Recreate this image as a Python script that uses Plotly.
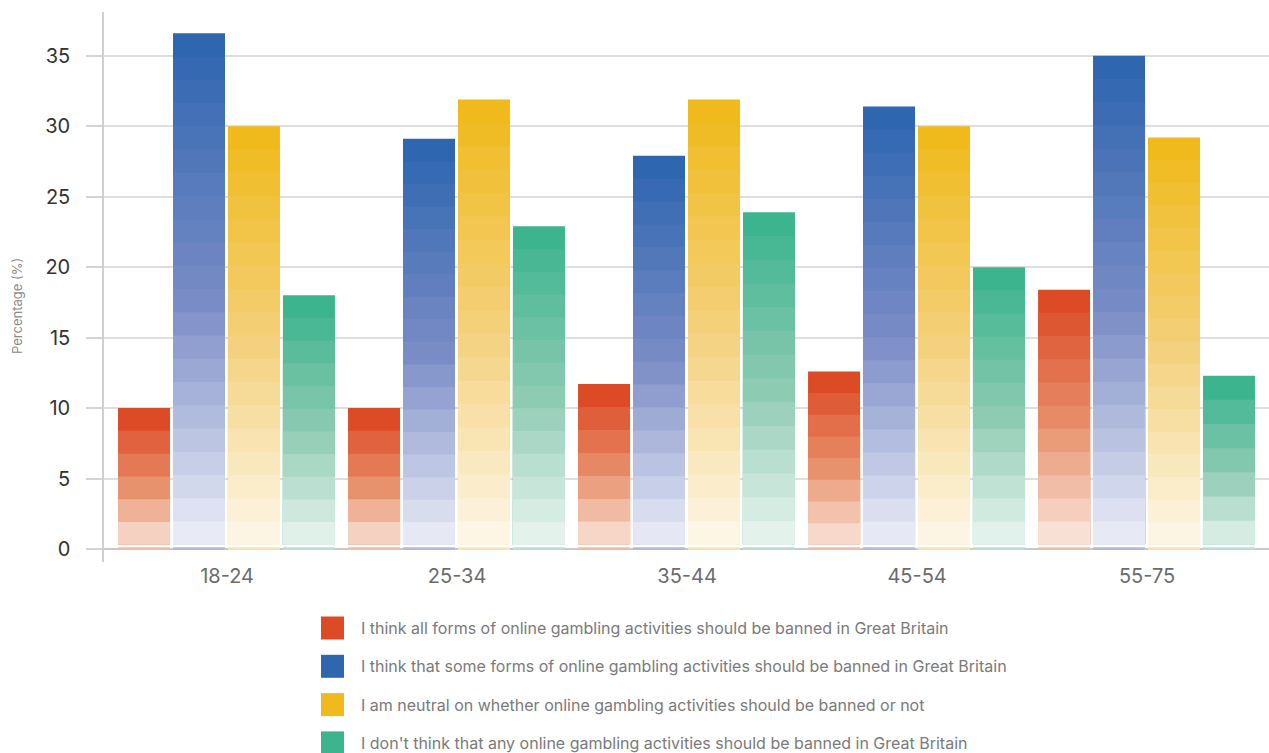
import plotly.graph_objects as go

# ---- data -------------------------------------------------------------
age_groups = ["18-24", "25-34", "35-44", "45-54", "55-75"]

series_names = [
    "I think all forms of online gambling activities should be banned in Great Britain",
    "I think that some forms of online gambling activities should be banned in Great Britain",
    "I am neutral on whether online gambling activities should be banned or not",
    "I don't think that any online gambling activities should be banned in Great Britain",
]

ban_all = [10.0, 10.0, 11.7, 12.6, 18.4]
ban_some = [36.6, 29.1, 27.9, 31.4, 35.0]
neutral = [30.0, 31.9, 31.9, 30.0, 29.2]
ban_none = [18.0, 22.9, 23.9, 20.0, 12.3]

series_values = [ban_all, ban_some, neutral, ban_none]

# gradient stops per series: (top, middle, pale end)
series_colors = ["#DC4A26", "#2E66B0", "#F0BA1C", "#3CB48E"]
series_mid = ["#E8926D", "#7A8CC6", "#F4D17E", "#8ECBB3"]
series_pale = ["#FCF1EB", "#F3F4FA", "#FEFAF0", "#F2F9F6"]

y_ticks = [0, 5, 10, 15, 20, 25, 30, 35]


# ---- colour helpers -----------------------------------------------------
def hex_to_rgb(h):
    h = h.lstrip("#")
    return [int(h[i:i + 2], 16) for i in (0, 2, 4)]


def mix(a, b, t):
    return [a[i] + (b[i] - a[i]) * t for i in range(3)]


def band_color(top, mid, pale, t):
    """Three-stop gradient: t=0 top colour, t=0.5 middle, t=1 pale end."""
    a, m, p = hex_to_rgb(top), hex_to_rgb(mid), hex_to_rgb(pale)
    c = mix(a, m, t / 0.5) if t <= 0.5 else mix(m, p, (t - 0.5) / 0.5)
    return "rgb(%d,%d,%d)" % tuple(round(v) for v in c)


# ---- geometry of the grouped bars ---------------------------------------
STEP = 1.65        # approximate height of one colour band
STRIP = 0.12       # thin base strip under each bar
GAP_TOP = 0.30     # where the banded part of the bar starts
BAR_W = 0.226
OFFSETS = [-0.474, -0.235, 0.004, 0.243]

fig = go.Figure()

for s, vals in enumerate(series_values):
    top, mid, pale = series_colors[s], series_mid[s], series_pale[s]
    xs, heights, bases, colors = [], [], [], []
    for c, v in enumerate(vals):
        n = max(1, round(v / STEP))
        # thin strip at the base
        xs.append(c)
        bases.append(0)
        heights.append(STRIP)
        colors.append(band_color(top, mid, pale, 0.72))
        # banded body: each band is drawn from the body's base up to its own
        # top, tallest (darkest) first, so lighter bands cover the lower part
        # without hairline seams between neighbours
        seg = (v - GAP_TOP) / n
        for k in range(n - 1, -1, -1):
            t = (n - 1 - k) / n
            xs.append(c)
            bases.append(GAP_TOP)
            heights.append((k + 1) * seg)
            colors.append(band_color(top, mid, pale, t))
    fig.add_trace(go.Bar(
        x=xs, y=heights, base=bases,
        width=BAR_W, offset=OFFSETS[s],
        marker=dict(color=colors, line=dict(width=0)),
        name=series_names[s], showlegend=False,
        hoverinfo="skip",
    ))

# ---- layout -----------------------------------------------------------------
W, H = 1269, 753
ML, MR, MT, MB = 104, 0, 12, 191
plot_w = W - ML - MR
plot_h = H - MT - MB

fig.update_layout(
    width=W, height=H,
    margin=dict(l=ML, r=MR, t=MT, b=MB, pad=0),
    paper_bgcolor="white", plot_bgcolor="white",
    barmode="overlay",
    font=dict(family="Inter, Roboto, sans-serif"),
    xaxis=dict(
        range=[-0.535, 4.53],
        tickmode="array", tickvals=list(range(len(age_groups))), ticktext=age_groups,
        showgrid=False, zeroline=False, showline=False, ticks="",
        tickfont=dict(size=20, color="#6b6b6b"),
    ),
    yaxis=dict(
        range=[-0.92, 38.1],
        tickmode="array", tickvals=y_ticks,
        showgrid=True, gridcolor="#dedede", gridwidth=1.5,
        zeroline=True, zerolinecolor="#c9c9c9", zerolinewidth=2,
        showline=True, linecolor="#cfcfcf", linewidth=1.5,
        ticks="outside", ticklen=16, tickcolor="#d4d4d4", tickwidth=1.5,
        ticklabelstandoff=12,
        tickfont=dict(size=20, color="#333333"),
    ),
)


def px_x(px):
    return (px - ML) / plot_w


def px_y(py):
    return (H - MB - py) / plot_h


# y-axis title
fig.add_annotation(
    xref="paper", yref="paper", x=px_x(17), y=px_y(306),
    xanchor="center", yanchor="middle", showarrow=False, textangle=-90,
    text="Percentage (%)", font=dict(size=13, color="#8a8a8a"),
)

# ---- legend drawn below the chart ------------------------------------------
for i, (name, col) in enumerate(zip(series_names, series_colors)):
    cy = 628 + 38.3 * i
    fig.add_shape(
        type="rect", xref="paper", yref="paper",
        x0=px_x(321), x1=px_x(344), y0=px_y(cy + 11.5), y1=px_y(cy - 11.5),
        fillcolor=col, line=dict(width=0),
    )
    fig.add_annotation(
        xref="paper", yref="paper", x=px_x(359), y=px_y(cy),
        xanchor="left", yanchor="middle", showarrow=False,
        text=name, font=dict(size=16, color="#7a7a7a"),
    )

fig.write_html("out.html")
